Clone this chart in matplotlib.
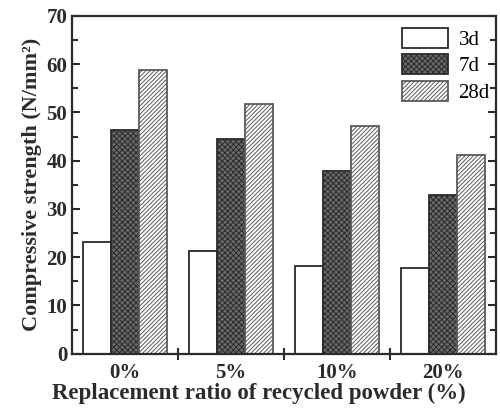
"""Grouped bar chart of compressive strength vs recycled powder replacement."""

import matplotlib
matplotlib.use("Agg")
import matplotlib.pyplot as plt
import numpy as np
from matplotlib.ticker import MultipleLocator

ratios = ["0%", "5%", "10%", "20%"]
ages = ["3d", "7d", "28d"]
strength_3d = [23.2, 21.3, 18.2, 17.8]
strength_7d = [46.3, 44.4, 37.9, 32.8]
strength_28d = [58.7, 51.8, 47.2, 41.2]

plt.rcParams["font.family"] = ["Liberation Serif", "DejaVu Serif"]
plt.rcParams["hatch.linewidth"] = 0.7

fig = plt.figure(figsize=(5.0, 4.08), dpi=100)
ax = fig.add_axes([0.144, 0.133, 0.848, 0.828])

ink = "#2b2b2b"
x = np.arange(len(ratios)) + 0.5
w = 0.262
series = [strength_3d, strength_7d, strength_28d]
styles = [
    dict(facecolor="white", hatch=None, edgecolor=ink),
    dict(facecolor="#6a6a6a", hatch="xxxxxx", edgecolor=ink),
    dict(facecolor="white", hatch="////////", edgecolor="#5a5a5a"),
]
for i, (vals, st) in enumerate(zip(series, styles)):
    ax.bar(x + (i - 1) * w, vals, w, label=ages[i], linewidth=1.3, **st)

ax.set_xlim(0, 4)
ax.set_ylim(0, 70)
ax.set_xticks([1, 2, 3])
ax.set_xticklabels([])
ax.set_xticks(x, minor=True)
ax.set_xticklabels(ratios, minor=True, fontsize=15, fontweight="bold", color=ink)
ax.tick_params(axis="x", which="major", direction="inout", length=8, width=1.5, color=ink)
ax.tick_params(axis="x", which="minor", length=0, pad=7)
ax.yaxis.set_major_locator(MultipleLocator(10))
ax.yaxis.set_minor_locator(MultipleLocator(5))
ax.tick_params(axis="y", which="both", direction="in", right=True, width=1.5, color=ink,
               labelsize=15, labelcolor=ink)
ax.tick_params(axis="y", which="major", length=6)
ax.tick_params(axis="y", which="minor", length=4)
for lab in ax.get_yticklabels():
    lab.set_fontweight("bold")
for sp in ax.spines.values():
    sp.set_linewidth(1.6)
    sp.set_color(ink)

ax.set_ylabel("Compressive strength (N/mm²)", fontsize=16, fontweight="bold", color=ink,
              labelpad=3)
ax.set_xlabel("Replacement ratio of recycled powder (%)", fontsize=16.5, fontweight="bold",
              color=ink)
ax.xaxis.set_label_coords(0.44, -0.085)

ax.legend(loc="upper right", frameon=False, handlelength=2.2, handleheight=1.1,
          labelspacing=0.22, handletextpad=0.5, borderaxespad=0.0,
          bbox_to_anchor=(1.005, 0.99), prop={"family": ["Liberation Serif"], "size": 15})

fig.savefig("out.png", dpi=100)
